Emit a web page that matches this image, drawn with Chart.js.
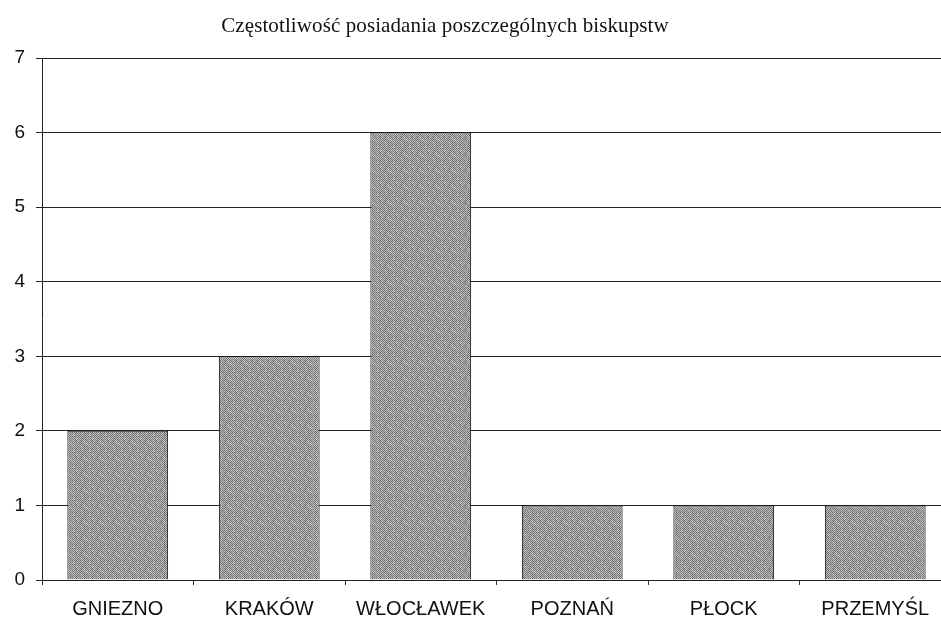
<!DOCTYPE html>
<html>
<head>
  <meta charset="utf-8">
  <script src="https://cdnjs.cloudflare.com/ajax/libs/Chart.js/4.4.1/chart.umd.min.js"></script>
  <style>
    body {
      margin: 0;
      background: white;
      overflow: hidden;
    }
    .wrap {
      position: relative;
      width: 960px;
      height: 620px;
    }
    .title {
      position: absolute;
      left: 0;
      top: 15px;
      width: 890px;
      text-align: center;
      font-family: "Liberation Serif", serif;
      font-size: 21px;
      line-height: 21px;
      letter-spacing: 0.1px;
      color: #111;
    }
  </style>
</head>
<body>
  <div class="wrap">
    <div class="title">Częstotliwość posiadania poszczególnych biskupstw</div>
    <canvas id="chart"></canvas>
  </div>

  <script>
    const categories = ['GNIEZNO', 'KRAKÓW', 'WŁOCŁAWEK', 'POZNAŃ', 'PŁOCK', 'PRZEMYŚL'];
    const counts = [2, 3, 6, 1, 1, 1];
    const yTicks = [0, 1, 2, 3, 4, 5, 6, 7];

    // grey grainy fill, like the scanned bars
    function makePattern() {
      const c = document.createElement('canvas');
      c.width = 16;
      c.height = 16;
      const g = c.getContext('2d');
      for (let y = 0; y < 16; y++) {
        for (let x = 0; x < 16; x++) {
          const h = ((x * 73 + y * 151 + x * y * 37) % 97) / 97;
          const base = (x + y) % 2 === 0 ? 120 : 188;
          const v = Math.round(base + (h - 0.5) * 40);
          g.fillStyle = `rgb(${v},${v},${v})`;
          g.fillRect(x, y, 1, 1);
        }
      }
      return g.createPattern(c, 'repeat');
    }

    const ctx = document.getElementById('chart').getContext('2d');
    new Chart(ctx, {
      type: 'bar',
      data: {
        labels: categories,
        datasets: [{
          data: counts,
          backgroundColor: makePattern(),
          borderColor: '#111',
          borderWidth: 1,
          categoryPercentage: 1,
          barPercentage: 0.665
        }]
      },
      options: {
        responsive: true,
        maintainAspectRatio: false,
        animation: false,
        layout: { padding: { top: 58, right: 9, left: 0, bottom: 0 } },
        plugins: {
          legend: { display: false },
          tooltip: { enabled: false }
        },
        scales: {
          x: {
            grid: {
              offset: true,
              drawOnChartArea: false,
              tickLength: 5,
              color: '#333'
            },
            border: { color: '#222', width: 1 },
            ticks: {
              color: '#111',
              padding: 12,
              autoSkip: false,
              maxRotation: 0,
              font: { family: 'Liberation Sans', size: 20 }
            },
            afterFit: s => { s.height = 40; }
          },
          y: {
            min: 0,
            max: 7,
            afterBuildTicks: s => { s.ticks = yTicks.map(v => ({ value: v })); },
            grid: {
              color: '#222',
              lineWidth: 1,
              tickLength: 6
            },
            border: { color: '#222', width: 1 },
            ticks: {
              color: '#111',
              padding: 11,
              font: { family: 'Liberation Sans', size: 19 }
            },
            afterFit: s => { s.width = 42; }
          }
        }
      }
    });
  </script>
</body>
</html>
